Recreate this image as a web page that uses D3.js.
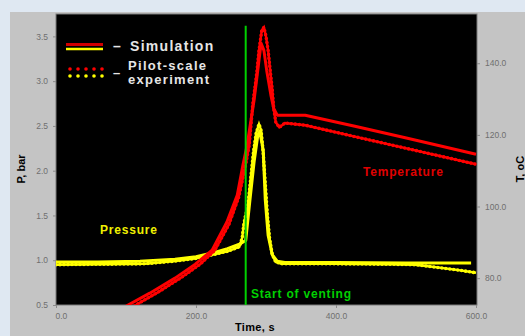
<!DOCTYPE html>
<html>
<head>
<meta charset="utf-8">
<script src="https://cdn.jsdelivr.net/npm/d3@7/dist/d3.min.js"></script>
<style>
  html, body { margin: 0; padding: 0; background: #dfe8f2; }
  svg { display: block; font-family: "Liberation Sans", Arial, sans-serif; }
</style>
</head>
<body>
<svg id="chart" width="525" height="336"></svg>
<script>
// temperature, simulation (right axis, degC)
const tSimTime = [95, 103, 134, 170, 199, 223, 244, 259, 267, 273, 283, 293, 297, 301, 307, 311, 316, 356, 427, 499, 600];
const tSimVal  = [71.5, 72.5, 75.8, 80.0, 83.9, 87.8, 95.6, 103.2, 111.5, 117.1, 129.7, 145.6, 143.6, 138.0, 131.1, 127.4, 125.5, 125.5, 122.4, 119.2, 114.6];

// temperature, pilot-scale experiment
const tExpTime = [108, 114, 146, 180, 206, 227, 247, 261, 270, 276, 281, 287, 290, 294, 297, 300, 303, 306, 309, 311, 314, 319, 327, 356, 427, 499, 600];
const tExpVal  = [71.5, 72.5, 76.1, 80.3, 83.9, 87.8, 95.0, 102.6, 110.7, 117.1, 128.3, 137.5, 143.6, 149.2, 150.0, 147.5, 143.6, 138.0, 132.5, 127.4, 123.5, 122.1, 123.3, 122.7, 119.5, 116.3, 111.8];

// pressure, simulation (left axis, bar)
const pSimTime = [0, 60, 120, 170, 200, 223, 245, 262, 271, 277, 283, 288, 291, 296, 299, 303, 309, 316, 327, 400, 500, 593];
const pSimVal  = [0.98, 0.98, 0.99, 1.01, 1.04, 1.08, 1.13, 1.18, 1.22, 1.67, 2.1, 2.38, 2.44, 2.23, 1.67, 1.28, 1.06, 0.99, 0.975, 0.975, 0.97, 0.97];

// pressure, pilot-scale experiment
const pExpTime = [0, 60, 127, 170, 200, 223, 245, 262, 266, 268, 270, 274, 278, 282, 286, 290, 293, 296, 299, 302, 305, 309, 314, 322, 400, 480, 513, 545, 575, 600];
const pExpVal  = [0.95, 0.955, 0.96, 0.99, 1.02, 1.06, 1.10, 1.15, 1.25, 1.38, 1.47, 1.6, 1.9, 2.2, 2.42, 2.52, 2.45, 2.2, 1.85, 1.5, 1.25, 1.06, 0.98, 0.96, 0.96, 0.955, 0.95, 0.92, 0.89, 0.86];

const ventTime = 271;
const ventTop = 3.62;

const xTicks = [0, 200, 400, 600];
const pTicks = [0.5, 1.0, 1.5, 2.0, 2.5, 3.0, 3.5];
const tTicks = [80, 100, 120, 140];

const svg = d3.select("#chart");
const plotL = 56, plotR = 476, plotT = 14, plotB = 305;

// grey panel
svg.append("rect").attr("x", 10).attr("y", 12).attr("width", 515).attr("height", 324).attr("fill", "#c4c4c4");

const x = d3.scaleLinear().domain([0, 600]).range([plotL, plotR]);
const yP = d3.scaleLinear().domain([0.5, 3.75]).range([plotB, plotT]);
const yT = d3.scaleLinear().domain([72.5, 153.75]).range([plotB, plotT]);

svg.append("rect").attr("x", plotL).attr("y", plotT)
    .attr("width", plotR - plotL + 1).attr("height", plotB - plotT)
    .attr("fill", "#000").attr("stroke", "#7a7a7a").attr("stroke-width", 1);

svg.append("clipPath").attr("id", "plot")
  .append("rect").attr("x", plotL).attr("y", plotT).attr("width", plotR - plotL + 1).attr("height", plotB - plotT);

const fmt = d3.format(".1f");
const styleAxis = g => {
    g.select(".domain").remove();
    g.selectAll(".tick line").attr("stroke", "#8a8a8a");
    g.selectAll(".tick text").attr("fill", "#6f6f6f").attr("font-size", 8.5);
};

svg.append("g").attr("transform", `translate(0,${plotB})`)
    .call(d3.axisBottom(x).tickValues(xTicks).tickFormat(fmt).tickSize(3).tickPadding(5))
    .call(styleAxis)
    .call(g => g.select(".tick text").attr("text-anchor", "start").attr("dx", -1));

svg.append("g").attr("transform", `translate(${plotL},0)`)
    .call(d3.axisLeft(yP).tickValues(pTicks).tickFormat(fmt).tickSize(3).tickPadding(5))
    .call(styleAxis);

svg.append("g").attr("transform", `translate(${plotR + 1},0)`)
    .call(d3.axisRight(yT).tickValues(tTicks).tickFormat(fmt).tickSize(3).tickPadding(5))
    .call(styleAxis);

const plot = svg.append("g").attr("clip-path", "url(#plot)");

const zip = (a, b) => a.map((d, i) => [d, b[i]]);
const lineT = d3.line().x(d => x(d[0])).y(d => yT(d[1]));
const lineP = d3.line().x(d => x(d[0])).y(d => yP(d[1]));

// simulation: solid, experiment: beaded dots
function solid(data, gen, color) {
    plot.append("path").datum(data).attr("d", gen)
        .attr("fill", "none").attr("stroke", color).attr("stroke-width", 3)
        .attr("stroke-linejoin", "round");
}
function dotted(data, gen, color) {
    plot.append("path").datum(data).attr("d", gen)
        .attr("fill", "none").attr("stroke", color).attr("stroke-width", 2.4);
    plot.append("path").datum(data).attr("d", gen)
        .attr("fill", "none").attr("stroke", color).attr("stroke-width", 3.6)
        .attr("stroke-linecap", "round").attr("stroke-dasharray", "0,4");
}

dotted(zip(pExpTime, pExpVal), lineP, "#ffff00");
solid(zip(pSimTime, pSimVal), lineP, "#ffff00");
dotted(zip(tExpTime, tExpVal), lineT, "#ff0000");
solid(zip(tSimTime, tSimVal), lineT, "#ff0000");

// start of venting
plot.append("line")
    .attr("x1", x(ventTime)).attr("x2", x(ventTime))
    .attr("y1", yP(ventTop)).attr("y2", plotB)
    .attr("stroke", "#00d000").attr("stroke-width", 2);

// annotations
const label = (tx, ty, txt, color, size, ls) => svg.append("text")
    .attr("x", tx).attr("y", ty).text(txt)
    .attr("fill", color).attr("font-weight", "bold")
    .attr("font-size", size).attr("letter-spacing", ls);

label(100, 234, "Pressure", "#f0f000", 12, 0.8);
label(363, 176, "Temperature", "#e00000", 12, 0.8);
label(251, 298, "Start of venting", "#00d000", 12, 0.8);
label(235, 331, "Time, s", "#000", 11, 0.3);

svg.append("text").attr("transform", "translate(25,169) rotate(-90)")
    .attr("text-anchor", "middle").attr("font-weight", "bold").attr("font-size", 11)
    .text("P, bar");
svg.append("text").attr("transform", "translate(524,169) rotate(-90)")
    .attr("text-anchor", "middle").attr("font-weight", "bold").attr("font-size", 11)
    .text("T, oC");

// legend
const leg = svg.append("g");
leg.append("line").attr("x1", 66).attr("x2", 103).attr("y1", 44.5).attr("y2", 44.5)
    .attr("stroke", "#d00000").attr("stroke-width", 3);
leg.append("line").attr("x1", 66).attr("x2", 103).attr("y1", 49).attr("y2", 49)
    .attr("stroke", "#ffff00").attr("stroke-width", 2.5);
[70, 78, 86, 94, 102].forEach(cx => {
    leg.append("circle").attr("cx", cx).attr("cy", 69).attr("r", 1.8).attr("fill", "#ff0000");
    leg.append("circle").attr("cx", cx).attr("cy", 76).attr("r", 1.8).attr("fill", "#ffff00");
});
const legText = (tx, ty, txt, size) => leg.append("text").attr("x", tx).attr("y", ty).text(txt)
    .attr("fill", "#e6e6e6").attr("font-weight", "bold").attr("font-size", size).attr("letter-spacing", 1.3);
legText(113, 51, "–", 14);
legText(130, 51, "Simulation", 14);
legText(113, 77, "–", 13);
legText(128, 70, "Pilot-scale", 13);
legText(128, 84, "experiment", 13);
</script>
</body>
</html>
